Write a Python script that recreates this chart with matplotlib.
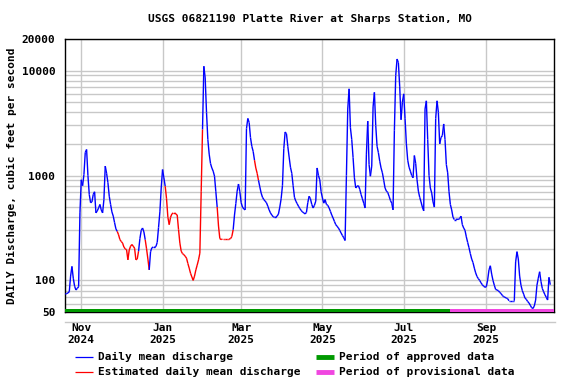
import numpy as np
import pandas as pd
import matplotlib
matplotlib.use("Agg")
import matplotlib.pyplot as plt
import matplotlib.dates as mdates
from matplotlib.lines import Line2D
from matplotlib.collections import LineCollection
from matplotlib.ticker import NullFormatter, LogLocator

# ----------------- DATOS -----------------
titulo = "USGS 06821190 Platte River at Sharps Station, MO"
fecha_inicio = "2024-10-20"

# caudal medio diario (pies cubicos por segundo), desde 2024-10-20
caudal = [
    74, 75, 76, 78, 110, 136, 105, 88, 81, 84,
    87, 440, 910, 800, 1020, 1660, 1770, 1000, 660, 550,
    560, 660, 700, 440, 460, 490, 530, 470, 440, 590,
    1230, 1050, 855, 635, 530, 450, 410, 355, 310, 293,
    272, 245, 235, 227, 208, 200, 196, 157, 195, 212,
    220, 212, 203, 157, 160, 190, 250, 300, 316, 290,
    244, 200, 160, 126, 188, 205, 208, 208, 210, 230,
    320, 450, 760, 1140, 950, 790, 600, 400, 340, 400,
    430, 440, 440, 430, 420, 305, 227, 190, 180, 176,
    170, 163, 145, 131, 117, 108, 100, 110, 126, 140,
    157, 182, 700, 2750, 11000, 8500, 4000, 2200, 1600, 1300,
    1180, 1100, 985, 700, 500, 330, 250, 245, 248, 248,
    248, 248, 248, 248, 250, 262, 304, 420, 540, 710,
    830, 700, 550, 500, 480, 470, 2800, 3500, 3200, 2300,
    1900, 1700, 1400, 1180, 1050, 900, 780, 680, 620, 590,
    570, 550, 510, 470, 440, 420, 405, 400, 400, 410,
    430, 500, 600, 800, 1800, 2600, 2500, 1900, 1500, 1200,
    1050, 800, 620, 570, 540, 510, 485, 465, 450, 440,
    430, 445, 550, 635, 600, 530, 490, 520, 570, 1180,
    1000, 910, 700, 610, 545, 590, 530, 520, 490, 455,
    420, 393, 365, 340, 328, 316, 300, 283, 268, 255,
    240, 1000, 4300, 6700, 2850, 2200, 1480, 950, 760, 790,
    800, 740, 660, 600, 545, 490, 1600, 3300, 1270, 985,
    1230, 4500, 6200, 3000, 1900, 1650, 1370, 1180, 1060, 900,
    760, 710, 690, 635, 580, 545, 470, 2700, 9000, 12900,
    11900, 7000, 3400, 5000, 6000, 3500, 2000, 1400, 1200, 1100,
    1000, 950, 1550, 1300, 910, 710, 620, 560, 500, 460,
    4300, 5150, 2200, 1000, 760, 680, 560, 500, 3500, 5150,
    4000, 2000, 2300, 2400, 3100, 2200, 1270, 1060, 700, 530,
    470, 400, 380, 380, 385, 380, 390, 410, 340, 316,
    300, 260, 230, 205, 180, 160, 148, 131, 118, 109,
    104, 100, 95, 91, 88, 86, 87, 101, 126, 138,
    115, 100, 90, 82, 81, 80, 77, 75, 72, 70,
    69, 68, 67, 64, 64, 64, 64, 64, 150, 188,
    160, 110, 90, 80, 74, 68, 66, 63, 61, 58,
    55, 54, 57, 65, 90, 105, 121, 98, 84, 78,
    73, 69, 65, 107, 91,
]

# periodos con valores estimados (linea roja)
periodos_estimados = [
    ("2024-11-28", "2024-12-14"),
    ("2024-12-19", "2024-12-22"),
    ("2025-01-03", "2025-01-31"),
    ("2025-02-11", "2025-02-23"),
    ("2025-03-11", "2025-03-14"),
]
inicio_provisional = "2025-08-05"
inicio_grafico = "2024-10-19 19:00"
fin_grafico = "2025-10-21 19:00"

meses_ticks = ["2024-11-01", "2025-01-01", "2025-03-01", "2025-05-01", "2025-07-01", "2025-09-01"]
etiquetas_ticks = ["Nov\n2024", "Jan\n2025", "Mar\n2025", "May\n2025", "Jul\n2025", "Sep\n2025"]
ticks_y = [50, 100, 1000, 10000, 20000]

# ----------------- GRAFICO -----------------
plt.rcParams['font.family'] = ['DejaVu Sans Mono']
plt.rcParams['font.weight'] = 'bold'

fechas = pd.date_range(fecha_inicio, periods=len(caudal), freq="D")
q = np.array(caudal, dtype=float)
estimado = np.zeros(len(q), dtype=bool)
for ini, fin in periodos_estimados:
    estimado |= (fechas >= pd.Timestamp(ini)) & (fechas <= pd.Timestamp(fin))

fig = plt.figure(figsize=(5.76, 3.84), dpi=100)
ax = fig.add_axes([65 / 576, 1 - 312 / 384, (554 - 65) / 576, (312 - 39) / 384])

ax.set_yscale("log")
ax.set_ylim(50, 20000)
ax.set_xlim(pd.Timestamp(inicio_grafico), pd.Timestamp(fin_grafico))

ax.yaxis.set_minor_locator(LogLocator(base=10, subs=np.arange(2, 10)))
ax.yaxis.set_minor_formatter(NullFormatter())
ax.set_yticks(ticks_y)
ax.set_yticklabels([str(t) for t in ticks_y])
ax.set_xticks([pd.Timestamp(m) for m in meses_ticks])
ax.set_xticklabels(etiquetas_ticks, linespacing=1.2)

ax.grid(True, which="both", axis="y", color="#c8c8c8", lw=1.0)
ax.grid(True, which="major", axis="x", color="#c8c8c8", lw=1.0)
ax.set_axisbelow(True)
ax.tick_params(axis="both", which="both", length=0, labelsize=8)
ax.tick_params(axis="y", pad=7)
ax.tick_params(axis="x", pad=8)
for s in ax.spines.values():
    s.set_linewidth(1.0)
    s.set_color("black")

# segmentos: rojo si ambos extremos son estimados, azul en otro caso
xn = mdates.date2num(fechas.to_pydatetime())
puntos = np.column_stack([xn, q])
segmentos = np.stack([puntos[:-1], puntos[1:]], axis=1)
colores = ["#ff0000" if (estimado[i] and estimado[i + 1]) else "#0000ff" for i in range(len(q) - 1)]
ax.add_collection(LineCollection(segmentos, colors=colores, linewidths=1.0, zorder=3))

# barras de periodo aprobado / provisional
tr = ax.get_xaxis_transform()
alto = 3.5 / 273
ax.fill_between([pd.Timestamp(inicio_grafico), pd.Timestamp(inicio_provisional)], 0, alto,
                color="#009900", transform=tr, lw=0, zorder=5)
ax.fill_between([pd.Timestamp(inicio_provisional), pd.Timestamp(fin_grafico)], 0, alto,
                color="#f046e0", transform=tr, lw=0, zorder=5)

# linea gris bajo el eje
fig.add_artist(Line2D([65 / 576, 555 / 576], [1 - 322 / 384] * 2, color="#c8c8c8", lw=1.0))

fig.text(310 / 576, 1 - 19 / 384, titulo, ha="center", va="center", fontsize=8, fontweight="bold")
fig.text(12 / 576, 1 - 176 / 384, "DAILY Discharge, cubic feet per second", rotation=90,
         ha="center", va="center", fontsize=8, fontweight="bold")

# leyenda manual
def px(x, y):
    return x / 576, 1 - y / 384

leyenda = [
    (75, 357, "#0000ff", 0.9, "Daily mean discharge"),
    (75, 372, "#ff0000", 0.9, "Estimated daily mean discharge"),
    (316, 357, "#009900", 3.5, "Period of approved data"),
    (316, 372, "#f046e0", 3.5, "Period of provisional data"),
]
for x0, y0, col, lw, txt in leyenda:
    a = px(x0, y0)
    b = px(x0 + 18, y0)
    fig.add_artist(Line2D([a[0], b[0]], [a[1], b[1]], color=col, lw=lw, solid_capstyle="butt"))
    t = px(x0 + 23, y0)
    fig.text(t[0], t[1], txt, ha="left", va="center", fontsize=8, fontweight="bold")

fig.savefig("out.png", dpi=100)
